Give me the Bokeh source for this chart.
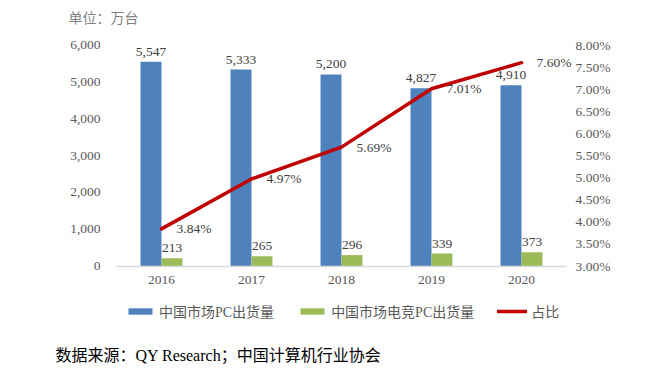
from bokeh.plotting import figure
from bokeh.models import (Range1d, LinearAxis, NumeralTickFormatter, ColumnDataSource,
                          Legend, LegendItem, Label, FixedTicker)
from bokeh.core.properties import value
from bokeh.embed import file_html
from bokeh.resources import INLINE

years = ["2016", "2017", "2018", "2019", "2020"]
pc_shipments = [5547, 5333, 5200, 4827, 4910]
gaming_pc = [213, 265, 296, 339, 373]
share = [0.0384, 0.0497, 0.0569, 0.0701, 0.0760]
left_ticks = [0, 1000, 2000, 3000, 4000, 5000, 6000]
right_ticks = [0.03, 0.035, 0.04, 0.045, 0.05, 0.055, 0.06, 0.065, 0.07, 0.075, 0.08]

SERIF = "Liberation Serif, Noto Sans CJK SC"
BLUE = "#4F81BD"
GREEN = "#9BBB59"
RED = "#C00000"
GRAY = "#595959"
DARK = "#404040"

# ---- layout (pixels) ----
W, H = 645, 370
X0_PX, STEP_PX = 161.0, 90.0          # first category centre, category step
BASE_PX, TOP_PX = 265.5, 44.5         # y pixel of 0 and of 6000
LMIN, LMAX = left_ticks[0], left_ticks[-1]
PMIN, PMAX = right_ticks[0], right_ticks[-1]

ppu = (BASE_PX - TOP_PX) / (LMAX - LMIN)
y_top = LMIN + BASE_PX / ppu
y_bot = LMIN - (H - BASE_PX) / ppu
x_lo = -X0_PX / STEP_PX
x_hi = (W - X0_PX) / STEP_PX


def to_pct(v):
    return PMIN + (v - LMIN) / (LMAX - LMIN) * (PMAX - PMIN)


idx = list(range(len(years)))
off = 10.5 / STEP_PX
bw = 21.0 / STEP_PX

src = ColumnDataSource(dict(
    i=idx,
    xb=[i - off for i in idx],
    xg=[i + off for i in idx],
    pc=pc_shipments,
    gpc=gaming_pc,
    share=share,
    pc_lbl=[f"{v:,}" for v in pc_shipments],
    gpc_lbl=[f"{v:,}" for v in gaming_pc],
    share_lbl=[f"{v*100:.2f}%" for v in share],
))

p = figure(width=W, height=H, x_range=Range1d(x_lo, x_hi), y_range=Range1d(y_bot, y_top),
           output_backend="svg", toolbar_location=None, title=None,
           min_border=0, x_axis_type=None, y_axis_type=None)
p.extra_y_ranges = {"pct": Range1d(to_pct(y_bot), to_pct(y_top))}
p.outline_line_color = None
p.background_fill_color = "white"
p.border_fill_color = "white"
p.xgrid.visible = False
p.ygrid.visible = False

r1 = p.vbar(x="xb", top="pc", width=bw, source=src, fill_color=BLUE, line_color=None)
r2 = p.vbar(x="xg", top="gpc", width=bw, source=src, fill_color=GREEN, line_color=None)
r3 = p.line(x="i", y="share", source=src, y_range_name="pct", line_color=RED,
            line_width=3.5, line_join="round", line_cap="round")

p.text(x="xb", y="pc", text="pc_lbl", source=src,
       text_align="center", text_baseline="bottom", y_offset=-6,
       text_font=value(SERIF), text_font_size="13.5px", text_color=DARK)
p.text(x="xg", y="gpc", text="gpc_lbl", source=src,
       text_align="center", text_baseline="bottom", y_offset=-6,
       text_font=value(SERIF), text_font_size="13.5px", text_color=DARK)
p.text(x="i", y="share", text="share_lbl", source=src, y_range_name="pct",
       text_align="left", text_baseline="middle", x_offset=15,
       text_font=value(SERIF), text_font_size="13.5px", text_color=DARK)


def style_axis(ax, standoff):
    ax.major_tick_line_color = None
    ax.minor_tick_line_color = None
    ax.major_tick_out = 0
    ax.major_tick_in = 0
    ax.major_label_standoff = standoff
    ax.major_label_text_font = SERIF
    ax.major_label_text_font_size = "13.5px"
    ax.major_label_text_color = GRAY


la = LinearAxis(ticker=FixedTicker(ticks=left_ticks), formatter=NumeralTickFormatter(format="0,0"),
                fixed_location=-0.5, axis_line_color=None)
style_axis(la, 16)
p.add_layout(la, "left")

ra = LinearAxis(y_range_name="pct", ticker=FixedTicker(ticks=right_ticks),
                formatter=NumeralTickFormatter(format="0.00%"),
                fixed_location=len(years) - 0.5, axis_line_color=None)
style_axis(ra, 9)
p.add_layout(ra, "right")

xa = LinearAxis(ticker=FixedTicker(ticks=idx), fixed_location=0,
                major_label_overrides={i: y for i, y in zip(idx, years)},
                bounds=(-0.5, len(years) - 0.5),
                axis_line_color="#D9D9D9", axis_line_width=1.5)
style_axis(xa, 10)
p.add_layout(xa, "below")

legend = Legend(items=[
    LegendItem(label="中国市场PC出货量", renderers=[r1]),
    LegendItem(label="中国市场电竞PC出货量", renderers=[r2]),
    LegendItem(label="占比", renderers=[r3]),
], orientation="horizontal", location=(125, H - 321), glyph_width=30, glyph_height=8,
    label_standoff=4, spacing=23, padding=0, margin=0,
    label_text_font=SERIF, label_text_font_size="14px", label_text_color=GRAY,
    border_line_color=None, background_fill_alpha=0)
p.add_layout(legend, "center")

p.add_layout(Label(x=68, y=H - 18, x_units="screen", y_units="screen", text="单位：万台",
                   text_font=SERIF, text_font_size="14px", text_color="#7F7F7F",
                   text_baseline="middle", text_align="left"))
p.add_layout(Label(x=55, y=H - 355, x_units="screen", y_units="screen",
                   text="数据来源：QY Research；中国计算机行业协会",
                   text_font=SERIF, text_font_size="16px", text_color="#000000",
                   text_baseline="middle", text_align="left"))

open("out.html", "w").write(file_html(p, INLINE))
